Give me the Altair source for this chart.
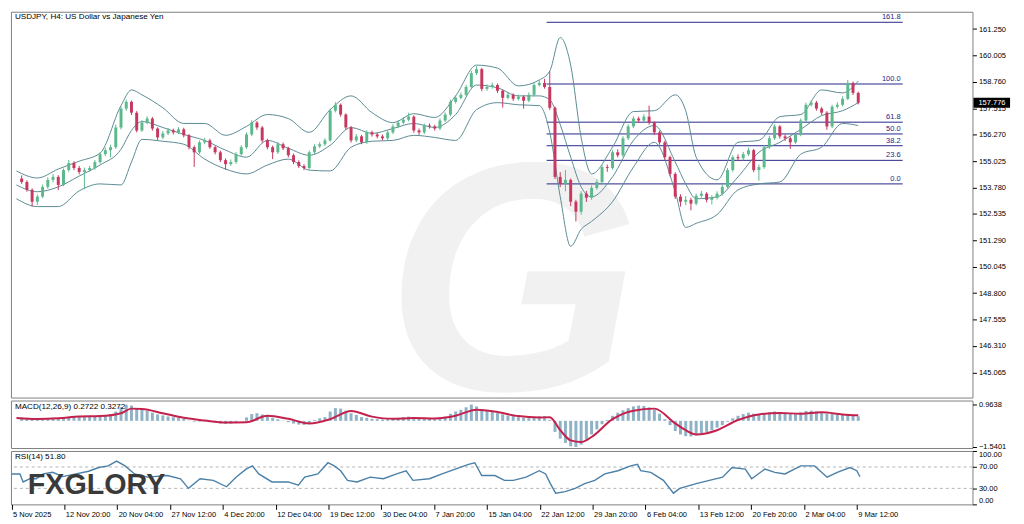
import json
import numpy as np
import pandas as pd
import altair as alt

FONT = "Liberation Sans, Arial, sans-serif"

# ---------------- texts ----------------
title_text = "USDJPY, H4:  US Dollar vs Japanese Yen"
macd_text = "MACD(12,26,9) 0.2722 0.3272"
rsi_text = "RSI(14) 51.80"
logo_text = "FXGLORY"

x_labels = ["5 Nov 2025", "12 Nov 20:00", "20 Nov 04:00", "27 Nov 12:00", "4 Dec 20:00",
            "12 Dec 04:00", "19 Dec 12:00", "30 Dec 04:00", "7 Jan 20:00", "15 Jan 04:00",
            "22 Jan 12:00", "29 Jan 20:00", "6 Feb 04:00", "13 Feb 12:00", "20 Feb 20:00",
            "2 Mar 04:00", "9 Mar 12:00"]
x_label_idx = [0, 10, 20, 30, 40, 50, 60, 70, 80, 90, 100, 110, 120, 130, 140, 150, 160]

price_ticks = [145.065, 146.31, 147.555, 148.8, 150.045, 151.29, 152.535, 153.78,
               155.025, 156.27, 157.515, 158.76, 160.005, 161.25]

# ---------------- candles ----------------
first_open = 154.20
close = [154.04, 153.67, 153.11, 153.35, 153.81, 154.14, 154.28, 153.90, 154.60, 154.93,
         154.70, 154.51, 154.60, 154.70, 154.98, 155.35, 155.54, 155.68, 156.61, 157.50,
         157.82, 157.31, 156.47, 156.84, 157.03, 156.56, 156.14, 156.33, 156.47, 156.38,
         156.52, 156.24, 155.68, 155.44, 155.91, 156.00, 155.68, 155.44, 155.07, 154.88,
         154.98, 155.35, 155.68, 156.28, 156.84, 156.61, 156.00, 155.68, 155.44, 155.82,
         155.63, 155.30, 154.98, 154.79, 154.70, 155.44, 155.72, 155.82, 156.00, 157.40,
         157.68, 157.22, 156.61, 156.00, 156.19, 155.91, 156.38, 156.28, 156.19, 156.10,
         156.38, 156.66, 156.84, 156.98, 157.12, 156.47, 156.38, 156.70, 156.66, 156.56,
         156.94, 157.22, 157.82, 158.01, 158.15, 158.52, 159.17, 159.36, 158.43, 158.52,
         158.61, 158.34, 158.01, 158.15, 157.96, 158.06, 157.87, 158.15, 158.61, 158.71,
         158.52, 157.54, 154.28, 153.95, 154.14, 153.11, 152.64, 153.49, 153.30, 153.76,
         154.04, 154.74, 154.70, 155.44, 155.30, 156.10, 156.66, 157.03, 156.94, 157.12,
         156.84, 156.38, 155.91, 155.21, 154.42, 153.35, 153.11, 153.20, 153.02, 153.39,
         153.49, 153.20, 153.30, 153.49, 153.81, 154.60, 155.21, 155.16, 155.35, 155.54,
         154.60, 154.74, 155.68, 156.10, 156.66, 156.19, 156.10, 155.91, 156.28, 156.94,
         157.68, 157.78, 157.50, 157.31, 156.66, 157.59, 157.68, 157.96, 158.71, 158.24, 157.776]
high = [154.35, 154.12, 153.74, 153.45, 153.92, 154.26, 154.42, 154.36, 154.68, 155.08,
        155.02, 154.80, 154.72, 154.80, 155.08, 155.44, 155.66, 155.80, 156.75, 157.60,
        157.92, 157.88, 157.38, 156.95, 157.14, 157.10, 156.62, 156.45, 156.58, 156.56,
        156.63, 156.60, 156.30, 155.76, 156.00, 156.12, 156.08, 155.75, 155.52, 155.15,
        155.10, 155.45, 155.78, 156.38, 156.95, 156.92, 156.68, 156.08, 155.76, 155.92,
        155.90, 155.70, 155.38, 155.06, 154.88, 155.52, 155.82, 155.92, 156.10, 157.50,
        157.80, 157.74, 157.28, 156.68, 156.30, 156.26, 156.48, 156.46, 156.36, 156.28,
        156.48, 156.76, 156.94, 157.10, 157.30, 157.18, 156.56, 156.80, 156.80, 156.74,
        157.04, 157.32, 157.92, 158.12, 158.26, 158.62, 159.28, 159.50, 159.42, 158.64,
        158.72, 158.68, 158.40, 158.26, 158.22, 158.16, 158.12, 158.26, 158.72, 158.84,
        158.90, 159.27, 157.60, 154.50, 154.60, 154.20, 153.20, 153.60, 153.62, 153.88,
        154.16, 154.84, 154.86, 155.54, 155.58, 156.20, 156.76, 157.14, 157.12, 157.24,
        157.64, 156.90, 156.46, 155.98, 155.28, 154.50, 153.46, 153.38, 153.30, 153.50,
        153.62, 153.56, 153.42, 153.60, 153.92, 154.70, 155.30, 155.34, 155.46, 155.66,
        155.60, 154.86, 155.78, 156.22, 156.76, 156.72, 156.28, 156.18, 156.38, 157.04,
        157.78, 157.90, 157.86, 157.58, 157.38, 157.68, 157.80, 158.08, 158.85, 158.78, 158.30]
low = [153.95, 153.58, 152.88, 152.95, 153.28, 153.72, 154.02, 153.66, 153.84, 154.52,
       154.60, 154.40, 153.70, 154.52, 154.62, 154.90, 155.26, 155.20, 155.60, 156.52,
       157.40, 157.20, 156.38, 156.40, 156.76, 156.46, 156.00, 156.06, 156.25, 156.28,
       156.30, 156.14, 155.58, 154.75, 155.36, 155.82, 155.60, 155.34, 154.98, 154.62,
       154.80, 154.90, 155.28, 155.60, 156.20, 156.50, 155.90, 155.58, 155.12, 155.36,
       155.54, 155.20, 154.88, 154.70, 154.60, 154.64, 155.36, 155.64, 155.74, 155.94,
       157.32, 157.12, 156.50, 155.90, 155.92, 155.82, 155.84, 156.18, 156.10, 156.00,
       156.02, 156.30, 156.58, 156.76, 156.90, 156.36, 156.26, 156.30, 156.56, 156.46,
       156.48, 156.86, 157.14, 157.74, 157.94, 158.08, 158.44, 159.08, 158.32, 158.34,
       158.44, 158.24, 157.55, 157.94, 157.86, 157.88, 157.50, 157.80, 158.08, 158.54,
       158.44, 157.44, 154.18, 153.80, 153.60, 152.90, 152.18, 152.50, 153.10, 153.20,
       153.68, 153.96, 154.52, 154.62, 155.20, 155.22, 156.02, 156.58, 156.84, 156.86,
       156.74, 156.26, 155.80, 155.10, 154.30, 153.24, 152.88, 152.95, 152.70, 152.94,
       153.30, 153.08, 152.98, 153.22, 153.40, 153.74, 154.52, 155.02, 155.06, 155.26,
       154.50, 154.10, 154.66, 155.60, 156.02, 156.08, 155.98, 155.60, 155.84, 156.20,
       156.86, 157.60, 157.40, 157.20, 156.50, 156.58, 157.50, 157.60, 157.90, 158.14, 157.70]
candle_idx = list(range(1, 162))

# ---------------- Bollinger bands (sampled) ----------------
band_idx = [0, 4, 8, 12, 16, 20, 22, 24, 28, 32, 36, 40, 44, 48, 52, 56, 60, 64, 68, 72,
            76, 80, 84, 88, 92, 96, 100, 102, 104, 106, 108, 110, 114, 118, 122, 126, 128,
            130, 134, 138, 142, 146, 150, 154, 158, 161]
bb_upper = [154.56, 154.23, 154.65, 155.02, 155.40, 157.64, 158.38, 158.15, 157.54, 156.80,
            156.80, 156.24, 156.66, 157.22, 157.03, 156.38, 157.45, 158.10, 157.31, 156.84,
            157.26, 157.08, 158.10, 159.55, 159.41, 158.57, 158.85, 159.27, 160.85, 159.55,
            156.14, 154.42, 155.68, 157.36, 157.40, 158.15, 157.40, 155.21, 154.14, 155.91,
            156.00, 157.12, 157.22, 158.38, 158.24, 158.80]
bb_mid = [153.90, 153.58, 153.81, 154.32, 154.84, 155.58, 156.47, 156.89, 156.61, 156.28,
          156.00, 155.54, 155.21, 156.00, 155.63, 155.30, 155.77, 156.61, 156.33, 156.56,
          156.80, 156.61, 157.22, 158.61, 158.48, 158.10, 158.10, 157.92, 156.75, 155.21,
          153.81, 153.34, 154.28, 156.00, 156.70, 154.98, 153.95, 153.25, 153.34, 154.28,
          155.44, 155.91, 156.52, 157.17, 157.40, 157.78]
bb_lower = [153.25, 152.88, 152.88, 153.62, 153.95, 153.90, 154.98, 156.05, 155.96, 155.82,
            155.12, 154.65, 154.42, 154.84, 155.12, 154.60, 154.56, 155.68, 155.96, 156.00,
            156.24, 156.14, 156.00, 157.45, 157.78, 157.68, 157.64, 156.38, 153.35, 151.01,
            151.81, 152.18, 153.11, 154.74, 155.91, 153.58, 151.90, 152.09, 152.50, 153.67,
            153.95, 154.04, 155.35, 155.68, 156.80, 156.70]

# ---------------- Fibonacci ----------------
fib_levels = ["0.0", "23.6", "38.2", "50.0", "61.8", "100.0", "161.8"]
fib_prices = [153.95, 155.06, 155.75, 156.305, 156.86, 158.66, 161.57]
fib_start = 101.4
fib_end = 169.5

# ---------------- MACD ----------------
macd_hist = [0.20, 0.18, 0.12, 0.10, 0.12, 0.15, 0.18, 0.15, 0.20, 0.25,
             0.28, 0.27, 0.25, 0.26, 0.28, 0.32, 0.35, 0.38, 0.55, 0.80,
             0.95, 0.90, 0.75, 0.65, 0.58, 0.48, 0.38, 0.32, 0.26, 0.22,
             0.18, 0.12, 0.02, -0.05, -0.04, -0.02, -0.06, -0.10, -0.15, -0.18,
             -0.16, -0.10, 0.00, 0.20, 0.40, 0.45, 0.38, 0.28, 0.18, 0.10,
             0.02, -0.08, -0.16, -0.22, -0.24, -0.15, 0.05, 0.15, 0.22, 0.55,
             0.75, 0.72, 0.60, 0.45, 0.35, 0.22, 0.18, 0.12, 0.10, 0.08,
             0.10, 0.14, 0.18, 0.22, 0.25, 0.18, 0.12, 0.14, 0.12, 0.10,
             0.16, 0.25, 0.42, 0.55, 0.65, 0.80, 0.96, 0.85, 0.70, 0.60,
             0.52, 0.45, 0.38, 0.32, 0.28, 0.22, 0.18, 0.16, 0.20, 0.26,
             0.28, 0.05, -0.65, -1.05, -1.30, -1.50, -1.54, -1.40, -1.10, -0.80,
             -0.50, -0.20, 0.05, 0.30, 0.48, 0.62, 0.75, 0.85, 0.90, 0.88,
             0.80, 0.65, 0.42, 0.10, -0.25, -0.60, -0.80, -0.90, -0.92, -0.85,
             -0.75, -0.65, -0.55, -0.40, -0.25, -0.05, 0.15, 0.30, 0.40, 0.48,
             0.42, 0.38, 0.42, 0.50, 0.55, 0.50, 0.45, 0.42, 0.45, 0.50,
             0.58, 0.60, 0.55, 0.50, 0.42, 0.40, 0.38, 0.36, 0.40, 0.32, 0.2722]
macd_signal = [0.17, 0.11, 0.15, 0.25, 0.28, 0.45, 0.72, 0.70, 0.45, 0.18,
               0.02, -0.10, -0.08, 0.30, 0.12, -0.15, 0.10, 0.58, 0.25, 0.12,
               0.17, 0.14, 0.30, 0.66, 0.52, 0.28, 0.20, 0.21, -0.55, -1.15,
               -1.25, -0.95, 0.10, 0.60, 0.72, -0.15, -0.55, -0.80, -0.55, 0.05,
               0.38, 0.46, 0.42, 0.50, 0.38, 0.3272]
macd_ticks = [0.9638, -1.5401]

# ---------------- RSI ----------------
rsi_idx = [0, 1.6, 2.2, 3.5, 4.7, 6, 7.8, 9.7, 12.2, 14.6, 16.5, 18.3, 19.9, 21.5, 23.3,
           25.8, 29.5, 32, 33.5, 35.7, 38.2, 40.7, 42.5, 44.4, 45.6, 46.8, 49.3, 52.4,
           54.3, 55.5, 58, 59.9, 61.1, 62.3, 63.6, 65.4, 67.9, 70.4, 72.9, 74.7, 76,
           79.1, 81.5, 84, 86.5, 87.7, 89, 91.5, 93.3, 95, 97.4, 99.9, 101.1, 102, 103,
           104.8, 106.7, 108.5, 110.4, 112.3, 114.8, 117.2, 118.5, 119.1, 121, 123.4,
           125.3, 126.5, 129.6, 132.1, 134.6, 136.4, 138.9, 140.1, 142.6, 144.5, 146.4,
           149.4, 152, 154.4, 156.3, 158.7, 160, 160.6]
rsi_vals = [57, 57, 42, 48, 48, 57, 60, 52, 57, 62, 69, 72, 81, 72, 57, 51, 54, 48, 30, 48,
            45, 33, 51, 66, 72, 57, 42, 42, 36, 51, 57, 78, 72, 63, 45, 42, 51, 48, 57, 63,
            45, 48, 57, 66, 75, 78, 54, 54, 45, 45, 51, 63, 57, 39, 21, 24, 30, 39, 45, 57,
            63, 72, 75, 63, 60, 45, 21, 30, 39, 45, 51, 69, 66, 48, 66, 60, 57, 72, 72, 51,
            60, 69, 63, 51.8]
rsi_ticks = [0, 30, 70, 100]
rsi_levels = [30, 70]

# ---------------- styling ----------------
UP = "#5bb98c"
DOWN = "#c8375f"
BAND = "#5a8b93"
FIB = "#25258a"
HIST = "#8fb2c6"
SIG = "#c4214c"
RSI_C = "#4a80a8"
W = 972
AX_FS = 7.6
TT_FS = 8.2

# ---------------- frames ----------------
opens = [first_open] + close[:-1]
cdf = pd.DataFrame({"i": candle_idx, "open": opens, "close": close, "high": high,
                    "low": low, "macd": macd_hist})
cdf["dir"] = np.where(cdf["close"] >= cdf["open"], "up", "down")

bdf = pd.DataFrame({"i": band_idx, "upper": bb_upper, "mid": bb_mid, "lower": bb_lower,
                    "signal": macd_signal})
bands_long = bdf.melt(id_vars="i", value_vars=["upper", "mid", "lower"],
                      var_name="band", value_name="v")

fdf = pd.DataFrame({"lvl": fib_levels, "p": fib_prices})
fdf["x0"] = fib_start
fdf["x1"] = fib_end

rdf = pd.DataFrame({"i": rsi_idx, "v": rsi_vals})

xs = alt.Scale(domain=[-0.1, 181.9], nice=False, zero=False)
ys_main = alt.Scale(domain=[143.876, 162.066], nice=False, zero=False)
ys_macd = alt.Scale(domain=[-1.598, 1.197], nice=False, zero=False)
ys_rsi = alt.Scale(domain=[0, 100], nice=False, zero=False)

main_axis = alt.Axis(orient="right", values=price_ticks, format=".3f", title=None, tickSize=4,
                     labelPadding=2, domain=False, grid=False, labelOverlap=False, labelFlush=False)
macd_axis = alt.Axis(orient="right", values=macd_ticks, format=".4f", title=None, tickSize=4,
                     labelPadding=2, domain=False, grid=False, labelOverlap=False, labelFlush=False)
rsi_axis = alt.Axis(orient="right", values=rsi_ticks, format=".2f", title=None, tickSize=4,
                    labelPadding=2, domain=False, grid=False, labelOverlap=False, labelFlush=True)
x_axis = alt.Axis(orient="bottom", values=x_label_idx,
                  labelExpr=json.dumps(x_labels) + "[round(datum.value / 10)]",
                  title=None, tickSize=5, labelAlign="left", labelBaseline="top",
                  labelPadding=1, labelOffset=1, labelFlush=False, labelOverlap=False,
                  domain=False, grid=False)

xnone = lambda f: alt.X(f, scale=xs, axis=None)
color_enc = alt.Color("dir:N", scale=alt.Scale(domain=["up", "down"], range=[UP, DOWN]),
                      legend=None)

# ---------------- main panel ----------------
watermark = alt.Chart(pd.DataFrame({"t": ["G"]})).mark_text(
    font="Liberation Sans", fontSize=330, fontWeight="bold", fontStyle="italic",
    color="#f1f1f1", align="center", baseline="alphabetic").encode(
    x=alt.value(507), y=alt.value(382), text="t:N")

fib_rules = alt.Chart(fdf).mark_rule(color=FIB, strokeWidth=1).encode(
    x=xnone("x0:Q"), x2="x1:Q", y=alt.Y("p:Q", scale=ys_main, axis=main_axis))
fib_text = alt.Chart(fdf).mark_text(align="right", baseline="bottom", dx=-2, dy=-1,
                                    color=FIB, font=FONT, fontSize=AX_FS).encode(
    x=xnone("x1:Q"), y=alt.Y("p:Q", scale=ys_main, axis=main_axis), text="lvl:N")

band_lines = alt.Chart(bands_long).mark_line(color=BAND, strokeWidth=1,
                                             interpolate="monotone").encode(
    x=xnone("i:Q"), y=alt.Y("v:Q", scale=ys_main, axis=main_axis), detail="band:N")

wicks = alt.Chart(cdf).mark_rule(strokeWidth=1).encode(
    x=xnone("i:Q"), y=alt.Y("low:Q", scale=ys_main, axis=main_axis), y2="high:Q",
    color=color_enc)
bodies = alt.Chart(cdf).mark_bar(size=3).encode(
    x=xnone("i:Q"), y=alt.Y("open:Q", scale=ys_main, axis=main_axis), y2="close:Q",
    color=color_enc)

last = close[-1]
pdf = pd.DataFrame({"p": [last], "t": [f"{last:.3f}"]})
pbox = alt.Chart(pdf).mark_rule(color="black", strokeWidth=10).encode(
    x=alt.value(W + 1), x2=alt.value(W + 38),
    y=alt.Y("p:Q", scale=ys_main, axis=main_axis))
ptext = alt.Chart(pdf).mark_text(align="left", baseline="middle", color="white",
                                 font=FONT, fontSize=AX_FS).encode(
    x=alt.value(W + 6), y=alt.Y("p:Q", scale=ys_main, axis=main_axis), text="t:N")

main_title = alt.Chart(pd.DataFrame({"t": [title_text]})).mark_text(
    align="left", baseline="middle", font=FONT, fontSize=TT_FS, color="black").encode(
    x=alt.value(4), y=alt.value(5), text="t:N")

main = alt.layer(watermark, fib_rules, band_lines, wicks, bodies, fib_text, pbox, ptext,
                 main_title).properties(width=W, height=390)

# ---------------- MACD panel ----------------
hist = alt.Chart(cdf).mark_bar(size=3, color=HIST).encode(
    x=xnone("i:Q"), y=alt.Y("macd:Q", scale=ys_macd, axis=macd_axis), y2=alt.datum(0))
sig = alt.Chart(bdf).mark_line(color=SIG, strokeWidth=2, interpolate="monotone").encode(
    x=xnone("i:Q"), y=alt.Y("signal:Q", scale=ys_macd, axis=macd_axis))
macd_title = alt.Chart(pd.DataFrame({"t": [macd_text]})).mark_text(
    align="left", baseline="middle", font=FONT, fontSize=TT_FS, color="black").encode(
    x=alt.value(4), y=alt.value(7), text="t:N")
macd = alt.layer(hist, sig, macd_title).properties(width=W, height=48)

# ---------------- RSI panel ----------------
rlev = alt.Chart(pd.DataFrame({"lv": rsi_levels})).mark_rule(
    color="#b4b4b4", strokeDash=[3, 3], strokeWidth=1).encode(
    y=alt.Y("lv:Q", scale=ys_rsi, axis=rsi_axis))
rline = alt.Chart(rdf).mark_line(color=RSI_C, strokeWidth=1.4).encode(
    x=alt.X("i:Q", scale=xs, axis=x_axis), y=alt.Y("v:Q", scale=ys_rsi, axis=rsi_axis))
logo = alt.Chart(pd.DataFrame({"t": [logo_text]})).mark_text(
    align="left", baseline="middle", font="Liberation Sans", fontSize=29,
    fontWeight="bold", color="#3a3a3a").encode(x=alt.value(17), y=alt.value(35), text="t:N")
rsi_title = alt.Chart(pd.DataFrame({"t": [rsi_text]})).mark_text(
    align="left", baseline="middle", font=FONT, fontSize=TT_FS, color="black").encode(
    x=alt.value(4), y=alt.value(6), text="t:N")
rsi = alt.layer(rlev, rline, logo, rsi_title).properties(width=W, height=54)

chart = alt.vconcat(main, macd, rsi, spacing=3, bounds="flush").properties(
    padding=0, background="white"
).configure_view(stroke="#7f7f7f", strokeWidth=1).configure_axis(
    labelFont=FONT, labelFontSize=AX_FS, labelColor="black", tickColor="black", tickWidth=1)

chart.save("out.html", embed_options={"renderer": "svg", "actions": False})
